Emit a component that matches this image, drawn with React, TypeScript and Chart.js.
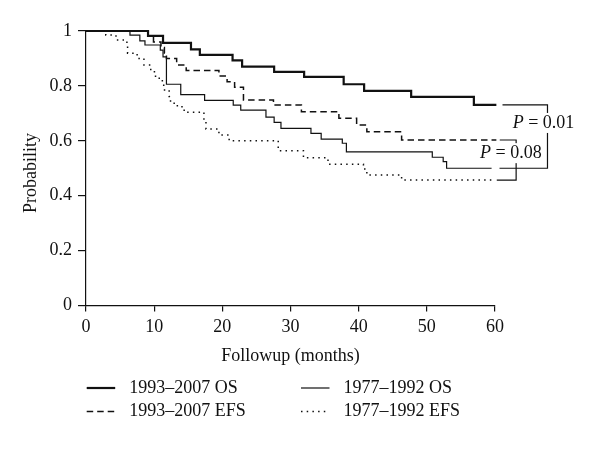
import React, { useEffect, useRef } from "react";
import { Chart, registerables } from "chart.js";

Chart.register(...registerables);

// ---- data ----
const xTicks = [0, 10, 20, 30, 40, 50, 60];
const yTicks = [0, 0.2, 0.4, 0.6, 0.8, 1];

const seriesLabels = ["1993–2007 OS", "1977–1992 OS", "1993–2007 EFS", "1977–1992 EFS"];

const osRecentMonths = [0, 9.1, 11.3, 15.4, 16.7, 21.5, 22.9, 27.6, 32.0, 37.8, 40.8, 47.7, 56.9, 60.2];
const osRecentProb = [1, 0.982, 0.957, 0.933, 0.913, 0.893, 0.87, 0.851, 0.833, 0.806, 0.782, 0.76, 0.731, 0.731];

const osEarlyMonths = [0, 6.45, 7.9, 8.65, 10.9, 11.3, 11.8, 13.9, 17.4, 21.6, 22.7, 26.4, 27.6, 28.6, 33.0, 34.5, 37.6, 38.2, 50.8, 52.4, 52.9, 59.5];
const osEarlyProb = [1, 0.985, 0.964, 0.949, 0.93, 0.906, 0.806, 0.768, 0.747, 0.73, 0.712, 0.686, 0.667, 0.645, 0.627, 0.606, 0.591, 0.56, 0.54, 0.524, 0.5, 0.5];

const efsRecentMonths = [0, 9.1, 9.9, 11.0, 11.5, 11.8, 13.3, 14.7, 19.5, 20.7, 21.8, 23.1, 27.5, 31.6, 37.1, 39.7, 41.2, 46.3, 60.2];
const efsRecentProb = [1, 0.982, 0.96, 0.94, 0.92, 0.9, 0.876, 0.856, 0.836, 0.815, 0.795, 0.749, 0.73, 0.706, 0.682, 0.658, 0.633, 0.603, 0.603];

const efsEarlyMonths = [0, 2.9, 4.4, 6.0, 6.1, 7.5, 8.5, 9.5, 10.2, 11.2, 11.4, 12.2, 12.4, 13.4, 14.4, 17.3, 17.6, 19.5, 21.0, 28.2, 31.9, 35.5, 40.7, 41.2, 46.3, 59.5];
const efsEarlyProb = [1, 0.985, 0.967, 0.949, 0.919, 0.9, 0.876, 0.852, 0.828, 0.809, 0.785, 0.761, 0.737, 0.724, 0.704, 0.675, 0.643, 0.621, 0.6, 0.564, 0.538, 0.515, 0.497, 0.475, 0.457, 0.457];

const pValues = ["0.01", "0.08"];

const yTitle = "Probability";
const xTitle = "Followup (months)";

const FONT = "'Liberation Serif', 'DejaVu Serif', serif";

function toPoints(m: number[], p: number[]) {
  return m.map((x, i) => ({ x, y: p[i] }));
}

const legendPlugin = {
  id: "customLegend",
  afterDraw(chart: any) {
    const ctx = chart.ctx;
    const cols = [86.7, 301];
    const rows = [388, 411.5];
    ctx.save();
    chart.data.datasets.forEach((ds: any, i: number) => {
      const x = cols[i % 2];
      const y = rows[Math.floor(i / 2)];
      ctx.beginPath();
      ctx.strokeStyle = ds.borderColor;
      ctx.lineWidth = ds.borderWidth;
      ctx.setLineDash(ds.borderDash || []);
      ctx.moveTo(x, y);
      ctx.lineTo(x + 28.5, y);
      ctx.stroke();
      ctx.setLineDash([]);
      ctx.fillStyle = "#111";
      ctx.font = `18px ${FONT}`;
      ctx.textBaseline = "middle";
      ctx.textAlign = "left";
      ctx.fillText(ds.label, x + 42.6, y);
    });
    // y axis title
    ctx.translate(31, 173);
    ctx.rotate(-Math.PI / 2);
    ctx.textAlign = "center";
    ctx.textBaseline = "middle";
    ctx.fillText(yTitle, 0, 0);
    ctx.restore();
  },
};

const bracketPlugin = {
  id: "brackets",
  afterDraw(chart: any) {
    const ctx = chart.ctx;
    const xs = chart.scales.x;
    const ys = chart.scales.y;
    const specs = [
      { top: osRecentProb[osRecentProb.length - 1], bottom: osEarlyProb[osEarlyProb.length - 1], x0: 61.1, x1: 67.7, tx: 62.6, ty: 0.665, text: pValues[0] },
      { top: efsRecentProb[efsRecentProb.length - 1], bottom: efsEarlyProb[efsEarlyProb.length - 1], x0: 60.7, x1: 63.1, tx: 57.8, ty: 0.555, text: pValues[1] },
    ];
    ctx.save();
    ctx.strokeStyle = "#111";
    ctx.lineWidth = 1.2;
    specs.forEach((s) => {
      const X0 = xs.getPixelForValue(s.x0);
      const X1 = xs.getPixelForValue(s.x1);
      const YT = ys.getPixelForValue(s.top);
      const YB = ys.getPixelForValue(s.bottom);
      ctx.beginPath();
      ctx.moveTo(X0, YT);
      ctx.lineTo(X1, YT);
      ctx.lineTo(X1, YB);
      ctx.lineTo(X0 - 3, YB);
      ctx.stroke();
    });
    specs.forEach((s) => {
      const TX = xs.getPixelForValue(s.tx);
      const TY = ys.getPixelForValue(s.ty);
      ctx.font = `italic 18px ${FONT}`;
      const wP = ctx.measureText("P").width;
      ctx.font = `18px ${FONT}`;
      const rest = " = " + s.text;
      const wR = ctx.measureText(rest).width;
      ctx.fillStyle = "#fff";
      ctx.fillRect(TX - 1, TY - 10, wP + wR + 1, 20);
      ctx.fillStyle = "#111";
      ctx.textBaseline = "middle";
      ctx.textAlign = "left";
      ctx.font = `italic 18px ${FONT}`;
      ctx.fillText("P", TX, TY);
      ctx.font = `18px ${FONT}`;
      ctx.fillText(rest, TX + wP, TY);
    });
    ctx.restore();
  },
};

export default function App() {
  const ref = useRef<HTMLCanvasElement | null>(null);

  useEffect(() => {
    if (!ref.current) return;
    Chart.defaults.font.family = FONT;
    Chart.defaults.font.size = 18;
    Chart.defaults.color = "#111";
    const chart = new Chart(ref.current, {
      type: "line",
      data: {
        datasets: [
          { label: seriesLabels[0], data: toPoints(osRecentMonths, osRecentProb), borderColor: "#111", borderWidth: 2.2, borderDash: [], stepped: true, pointRadius: 0, clip: false } as any,
          { label: seriesLabels[1], data: toPoints(osEarlyMonths, osEarlyProb), borderColor: "#111", borderWidth: 1.2, borderDash: [], stepped: true, pointRadius: 0, clip: false } as any,
          { label: seriesLabels[2], data: toPoints(efsRecentMonths, efsRecentProb), borderColor: "#111", borderWidth: 1.5, borderDash: [6.5, 4], stepped: true, pointRadius: 0, clip: false } as any,
          { label: seriesLabels[3], data: toPoints(efsEarlyMonths, efsEarlyProb), borderColor: "#111", borderWidth: 1.5, borderDash: [1.5, 4.2], stepped: true, pointRadius: 0, clip: false } as any,
        ],
      },
      options: {
        animation: false,
        responsive: false,
        maintainAspectRatio: false,
        layout: { padding: { left: 20, right: 105, top: 31, bottom: 82 } },
        plugins: { legend: { display: false }, tooltip: { enabled: false }, title: { display: false } },
        scales: {
          x: {
            type: "linear",
            min: 0,
            max: 60,
            afterBuildTicks: (s: any) => { s.ticks = xTicks.map((v) => ({ value: v })); },
            afterFit: (s: any) => { s.height = 61.5; },
            ticks: { padding: 5, font: { size: 18, family: FONT }, color: "#111" },
            grid: { display: true, drawOnChartArea: false, drawTicks: true, tickLength: 6, color: "#111", lineWidth: 1.2 },
            border: { display: true, color: "#111", width: 1.2 },
            title: { display: true, text: xTitle, font: { size: 18, family: FONT }, color: "#111", padding: 0 },
          },
          y: {
            type: "linear",
            min: 0,
            max: 1,
            afterBuildTicks: (s: any) => { s.ticks = yTicks.map((v) => ({ value: v })); },
            afterFit: (s: any) => { s.width = 66; },
            ticks: { padding: 6, font: { size: 18, family: FONT }, color: "#111", callback: (v: any) => String(v) },
            grid: { display: true, drawOnChartArea: false, drawTicks: true, tickLength: 8, color: "#111", lineWidth: 1.2 },
            border: { display: true, color: "#111", width: 1.2 },
            title: { display: false },
          },
        },
      },
      plugins: [bracketPlugin, legendPlugin],
    });
    return () => chart.destroy();
  }, []);

  return (
    <div style={{ position: "fixed", left: 0, top: 0, width: 600, height: 449, background: "#fff" }}>
      <canvas ref={ref} width={600} height={449} style={{ display: "block" }} />
    </div>
  );
}
